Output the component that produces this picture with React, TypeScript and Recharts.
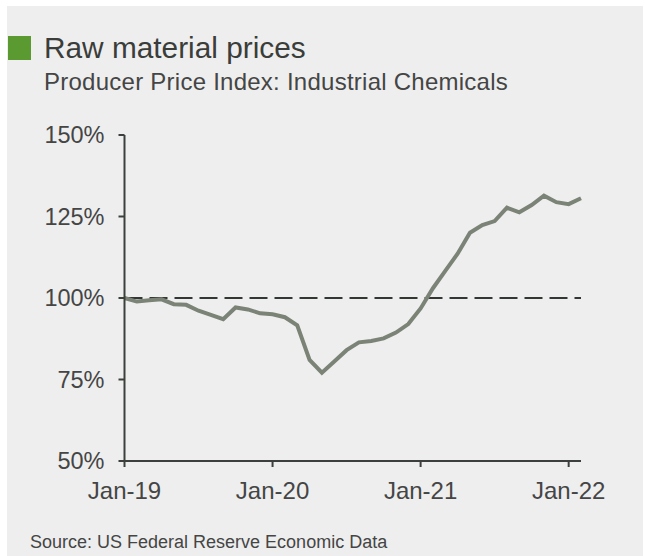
import { LineChart, Line, XAxis, YAxis, ReferenceLine } from "recharts";

// monthly index, Jan-19 = 100
const months = [
  "Jan-19", "Feb-19", "Mar-19", "Apr-19", "May-19", "Jun-19", "Jul-19", "Aug-19", "Sep-19", "Oct-19", "Nov-19", "Dec-19",
  "Jan-20", "Feb-20", "Mar-20", "Apr-20", "May-20", "Jun-20", "Jul-20", "Aug-20", "Sep-20", "Oct-20", "Nov-20", "Dec-20",
  "Jan-21", "Feb-21", "Mar-21", "Apr-21", "May-21", "Jun-21", "Jul-21", "Aug-21", "Sep-21", "Oct-21", "Nov-21", "Dec-21",
  "Jan-22", "Feb-22",
];

const ppiValues = [
  100, 98.9, 99.3, 99.6, 98.1, 97.9, 96.1, 94.8, 93.5, 97.1, 96.5, 95.3,
  95.0, 94.1, 91.6, 81.0, 77.1, 80.5, 84.0, 86.4, 86.8, 87.6, 89.4, 92.0,
  96.8, 103.0, 108.3, 113.6, 120.0, 122.4, 123.6, 127.7, 126.3, 128.5, 131.4, 129.4,
  128.8, 130.6,
];

const yTicks = [50, 75, 100, 125, 150];
const xTicks = [0, 12, 24, 36];

const data = months.map((m, i) => ({ idx: i, month: m, ppi: ppiValues[i] }));

const FONT = "'Liberation Sans', Arial, sans-serif";
const TEXT = "#454545";
const AXIS = "#3c403d";

export default function App() {
  return (
    <div
      style={{
        position: "absolute",
        left: 0,
        top: 0,
        width: 645,
        height: 556,
        background: "#ffffff",
        fontFamily: FONT,
        overflow: "hidden",
      }}
    >
      <div
        style={{
          position: "absolute",
          left: 7,
          top: 6,
          width: 636,
          height: 550,
          background: "#eeeeee",
        }}
      />
      {/* title block */}
      <div
        style={{
          position: "absolute",
          left: 8,
          top: 36,
          width: 23,
          height: 24,
          background: "#5a9a31",
        }}
      />
      <div
        style={{
          position: "absolute",
          left: 44,
          top: 31,
          fontSize: 29.8,
          lineHeight: "34px",
          color: "#3a3d3a",
          whiteSpace: "nowrap",
        }}
      >
        Raw material prices
      </div>
      <div
        style={{
          position: "absolute",
          left: 44,
          top: 68,
          fontSize: 24,
          lineHeight: "28px",
          letterSpacing: 0.25,
          color: TEXT,
          whiteSpace: "nowrap",
        }}
      >
        Producer Price Index: Industrial Chemicals
      </div>

      <div style={{ position: "absolute", left: 0, top: 0 }}>
        <LineChart
          width={645}
          height={556}
          data={data}
          margin={{ top: 135, right: 64, bottom: 65, left: 64.5 }}
        >
          <XAxis
            dataKey="idx"
            type="number"
            domain={[0, 37]}
            ticks={xTicks}
            tickFormatter={(v: number) => months[v]}
            stroke={AXIS}
            strokeWidth={2}
            tickSize={6}
            tickMargin={15}
            height={30}
            tick={{ fill: TEXT, fontSize: 24, fontFamily: FONT }}
          />
          <YAxis
            type="number"
            domain={[50, 150]}
            ticks={yTicks}
            tickFormatter={(v: number) => `${v}%`}
            stroke={AXIS}
            strokeWidth={2}
            tickSize={6}
            tickMargin={14}
            width={60}
            tick={{ fill: TEXT, fontSize: 23.5, fontFamily: FONT }}
          />
          <ReferenceLine
            y={100}
            stroke="#333733"
            strokeWidth={2.2}
            strokeDasharray="18 7"
          />
          <Line
            type="linear"
            dataKey="ppi"
            stroke="#7b8376"
            strokeWidth={4}
            dot={false}
            isAnimationActive={false}
          />
        </LineChart>
      </div>

      <div
        style={{
          position: "absolute",
          left: 30,
          top: 531,
          fontSize: 18,
          lineHeight: "22px",
          color: TEXT,
          whiteSpace: "nowrap",
        }}
      >
        Source: US Federal Reserve Economic Data
      </div>
    </div>
  );
}
